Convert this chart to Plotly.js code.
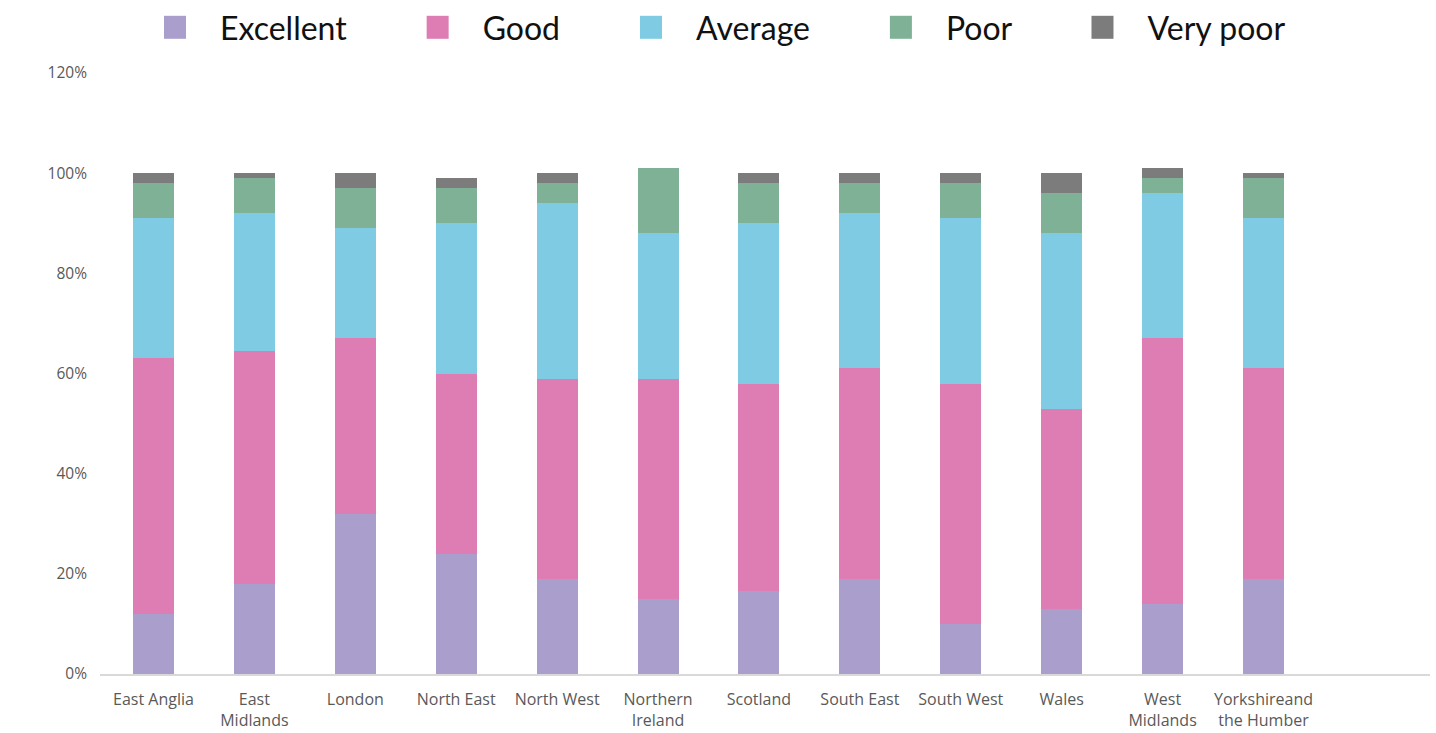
<!DOCTYPE html>
<html>
<head>
<meta charset="utf-8">
<script src="https://cdn.plot.ly/plotly-3.0.1.min.js"></script>
<style>
  html, body { margin: 0; padding: 0; background: #ffffff; }
  #chart { width: 1436px; height: 733px; }
</style>
</head>
<body>
<div id="chart"></div>
<script>
// Regions along the x axis
const regions = [
  'East Anglia', 'East<br>Midlands', 'London', 'North East', 'North West',
  'Northern<br>Ireland', 'Scotland', 'South East', 'South West', 'Wales',
  'West<br>Midlands', 'Yorkshireand<br>the Humber'
];

// Share of responses per rating (percent)
const excellent = [12, 18, 32, 24, 19, 15, 16.6, 19, 10, 13, 14, 19];
const good      = [51, 46.5, 35, 36, 40, 44, 41.4, 42, 48, 40, 53, 42];
const average   = [28, 27.5, 22, 30, 35, 29, 32, 31, 33, 35, 29, 30];
const poor      = [7, 7, 8, 7, 4, 13, 8, 6, 7, 8, 3, 8];
const veryPoor  = [2, 1, 3, 2, 2, 0, 2, 2, 2, 4, 2, 1];

const yTicks = [0, 0.2, 0.4, 0.6, 0.8, 1.0, 1.2];

const series = [
  { name: 'Excellent', values: excellent, color: '#aa9fcc' },
  { name: 'Good',      values: good,      color: '#de7db4' },
  { name: 'Average',   values: average,   color: '#7fcbe3' },
  { name: 'Poor',      values: poor,      color: '#7eb196' },
  { name: 'Very poor', values: veryPoor,  color: '#7c7c7c' }
];

// Non-breaking spaces after each legend label widen the gap between entries
const legendPad = '\u00a0\u00a0\u00a0\u00a0\u00a0';

const traces = series.map(s => ({
  type: 'bar',
  name: s.name + legendPad,
  x: regions,
  y: s.values.map(v => v / 100),
  marker: { color: s.color, line: { width: 0 } },
  hovertemplate: '%{x}: %{y:.0%}<extra>' + s.name + '</extra>'
}));

const tickFont = { family: '"Open Sans", "Liberation Sans", sans-serif', size: 16, color: '#595959' };

const layout = {
  width: 1436,
  height: 733,
  barmode: 'stack',
  bargap: 0.594,
  paper_bgcolor: '#ffffff',
  plot_bgcolor: '#ffffff',
  margin: { l: 100, r: 6, t: 72.5, b: 59, pad: 0 },
  showlegend: true,
  legend: {
    orientation: 'h',
    traceorder: 'normal',
    xref: 'container', yref: 'container',
    x: 0.5087, xanchor: 'center',
    y: 1.0, yanchor: 'top',
    itemwidth: 80,
    font: { family: 'Lato, "Open Sans", sans-serif', size: 32, color: '#111111' },
    bgcolor: 'rgba(0,0,0,0)'
  },
  xaxis: {
    type: 'category',
    range: [-0.53, 12.65],
    showgrid: false,
    showline: true,
    linecolor: '#d9d9d9',
    linewidth: 1.5,
    ticks: '',
    ticklabelstandoff: 10,
    tickfont: tickFont,
    zeroline: false,
    fixedrange: true
  },
  yaxis: {
    range: [0, 1.2],
    tickvals: yTicks,
    tickformat: '.0%',
    showgrid: false,
    showline: false,
    zeroline: false,
    ticks: '',
    ticklabelstandoff: 12,
    tickfont: { family: '"Open Sans", "Liberation Sans", sans-serif', size: 15.5, color: '#595959' },
    fixedrange: true
  }
};

Plotly.newPlot('chart', traces, layout, { displayModeBar: false, staticPlot: true }).then(gd => {
  // Larger square swatches in the legend
  gd.querySelectorAll('.legend .legendpoints path').forEach(p => {
    p.setAttribute('d', 'M11,11.5H-11V-11.5H11Z');
  });
});
</script>
</body>
</html>
